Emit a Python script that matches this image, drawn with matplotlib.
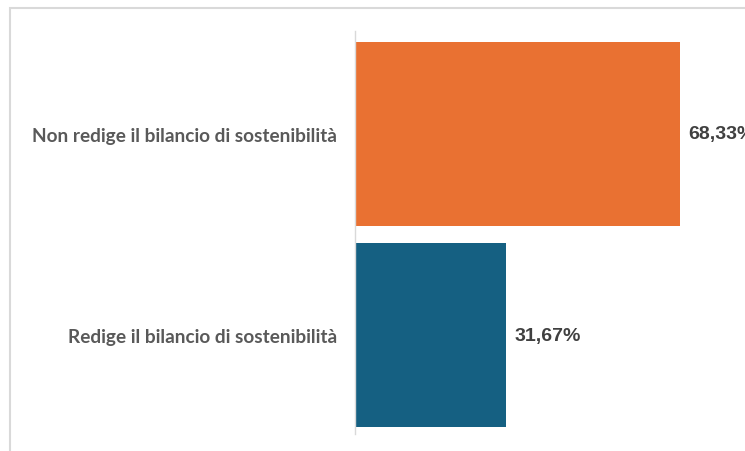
import matplotlib.pyplot as plt
from matplotlib.patches import Rectangle

# Data
categories = ["Non redige il bilancio di sostenibilità", "Redige il bilancio di sostenibilità"]
values = [68.33, 31.67]
value_labels = ["68,33%", "31,67%"]
colors = ["#E97132", "#156082"]

W, H = 745, 452
fig = plt.figure(figsize=(W / 100, H / 100), dpi=100)

# chart border (cut by the image edge on right/bottom)
fig.patches.append(Rectangle((10 / W, -0.1), 1.2, 1.1 - 9 / H, transform=fig.transFigure,
                             fill=False, edgecolor="#d9d9d9", linewidth=1.5))

ax = fig.add_axes([355 / W, 17 / H, 475.6 / W, 403 / H])

y = [1, 0]
ax.barh(y, values, height=0.915, color=colors)
ax.set_xlim(0, 100)
ax.set_ylim(-0.49, 1.51)

# value labels (the top one runs past the image edge, as in the original)
for yi, v, lab in zip(y, values, value_labels):
    ax.text(v + 1.8, yi, lab, va="center", ha="left", fontsize=14, fontweight="bold",
            color="#404040", family="Liberation Sans", clip_on=False)

ax.set_yticks(y)
ax.set_yticklabels(categories, fontsize=13.7, fontweight="bold", color="#595959", family="Lato")
ax.tick_params(axis="y", length=0, pad=13)
ax.set_xticks([])

for s in ["top", "right", "bottom"]:
    ax.spines[s].set_visible(False)
ax.spines["left"].set_color("#d9d9d9")
ax.spines["left"].set_linewidth(1)

fig.savefig("out.png", dpi=100)
